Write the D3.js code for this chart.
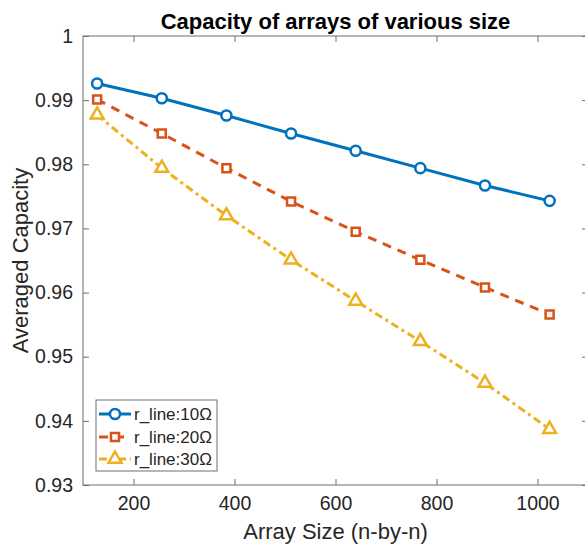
<!DOCTYPE html>
<html>
<head>
<meta charset="utf-8">
<script src="https://cdn.jsdelivr.net/npm/d3@7"></script>
<style>
  body { margin: 0; background: #fff; }
  svg text { font-family: "Liberation Sans", Arial, Helvetica, sans-serif; fill: #262626; }
</style>
</head>
<body>
<div id="chart"></div>
<script>

// array sizes (n-by-n)
var sizes = [128, 256, 384, 512, 640, 768, 896, 1024];

var cap10 = [0.9926, 0.9903, 0.9876, 0.9848, 0.9821, 0.9794, 0.9767, 0.9743];
var cap20 = [0.9901, 0.9848, 0.9794, 0.9742, 0.9695, 0.9651, 0.9608, 0.9566];
var cap30 = [0.9877, 0.9794, 0.9720, 0.9651, 0.9587, 0.9524, 0.9459, 0.9387];

var seriesNames = ["r_line:10Ω", "r_line:20Ω", "r_line:30Ω"];

var xTicks = [200, 400, 600, 800, 1000];
var yTicks = [0.93, 0.94, 0.95, 0.96, 0.97, 0.98, 0.99, 1];

function drawChart(){
    var width = 585, height = 545;
    var left = 83, right = 588, top = 36, bottom = 485;

    var svg = d3.select("#chart").append("svg")
        .attr("width", width)
        .attr("height", height);

    var x = d3.scaleLinear().domain([100, 1100]).range([left, right]);
    var y = d3.scaleLinear().domain([0.93, 1]).range([bottom, top]);

    var axisColor = "#6e6e6e";

    // box
    svg.append("rect")
        .attr("x", left).attr("y", top)
        .attr("width", right - left).attr("height", bottom - top)
        .attr("fill", "none").attr("stroke", axisColor).attr("stroke-width", 1);

    // x ticks (bottom + top, inward)
    var xg = svg.append("g").attr("transform", "translate(0," + bottom + ")")
        .call(d3.axisBottom(x).tickValues(xTicks).tickSizeInner(-6).tickSizeOuter(0).tickPadding(11).tickFormat(d3.format("d")));
    xg.select(".domain").remove();
    xg.selectAll("line").attr("stroke", axisColor);
    xg.selectAll("text").attr("font-size", 19.5).attr("fill", "#262626");

    var xt = svg.append("g").attr("transform", "translate(0," + top + ")")
        .call(d3.axisTop(x).tickValues(xTicks).tickSizeInner(-6).tickSizeOuter(0).tickFormat(""));
    xt.select(".domain").remove();
    xt.selectAll("line").attr("stroke", axisColor);

    // y ticks (left + right, inward)
    var fmt = function(d){ return d === 1 ? "1" : d3.format(".2f")(d); };
    var yg = svg.append("g").attr("transform", "translate(" + left + ",0)")
        .call(d3.axisLeft(y).tickValues(yTicks).tickSizeInner(-6).tickSizeOuter(0).tickPadding(10).tickFormat(fmt));
    yg.select(".domain").remove();
    yg.selectAll("line").attr("stroke", axisColor);
    yg.selectAll("text").attr("font-size", 19.5).attr("fill", "#262626");

    var yr = svg.append("g").attr("transform", "translate(" + right + ",0)")
        .call(d3.axisRight(y).tickValues(yTicks).tickSizeInner(-6).tickSizeOuter(0).tickFormat(""));
    yr.select(".domain").remove();
    yr.selectAll("line").attr("stroke", axisColor);

    // labels
    svg.append("text")
        .attr("x", (left + right) / 2).attr("y", 29)
        .attr("text-anchor", "middle")
        .attr("font-size", 22).attr("font-weight", "bold")
        .style("fill", "#000")
        .text("Capacity of arrays of various size");

    svg.append("text")
        .attr("x", (left + right) / 2).attr("y", 539)
        .attr("text-anchor", "middle")
        .attr("font-size", 22)
        .text("Array Size (n-by-n)");

    svg.append("text")
        .attr("transform", "translate(28," + ((top + bottom) / 2) + ") rotate(-90)")
        .attr("text-anchor", "middle")
        .attr("font-size", 22)
        .text("Averaged Capacity");

    var series = [
        { name: seriesNames[0], values: cap10, color: "#0072BD", dash: null, marker: "circle" },
        { name: seriesNames[1], values: cap20, color: "#D95319", dash: "9,7", marker: "square" },
        { name: seriesNames[2], values: cap30, color: "#EDB120", dash: "8,4,3,4", marker: "triangle" }
    ];

    var line = d3.line()
        .x(function(d){ return x(d[0]); })
        .y(function(d){ return y(d[1]); });

    var symbolFor = function(m){
        if (m === "circle") return d3.symbol().type(d3.symbolCircle).size(80)();
        if (m === "square") return d3.symbol().type(d3.symbolSquare).size(64)();
        return d3.symbol().type(d3.symbolTriangle).size(72)();
    };

    series.forEach(function(s){
        var pts = sizes.map(function(v, i){ return [v, s.values[i]]; });
        svg.append("path")
            .datum(pts)
            .attr("d", line)
            .attr("fill", "none")
            .attr("stroke", s.color)
            .attr("stroke-width", 3)
            .attr("stroke-dasharray", s.dash);

        svg.selectAll(null)
            .data(pts)
            .enter().append("path")
            .attr("transform", function(d){ return "translate(" + x(d[0]) + "," + y(d[1]) + ")"; })
            .attr("d", symbolFor(s.marker))
            .attr("fill", "#fff")
            .attr("stroke", s.color)
            .attr("stroke-width", 2.5);
    });

    // legend
    var lg = svg.append("g");
    lg.append("rect")
        .attr("x", 96).attr("y", 400)
        .attr("width", 121).attr("height", 71)
        .attr("fill", "#fff").attr("stroke", axisColor).attr("stroke-width", 1);

    var rowY = [414, 437, 459];
    series.forEach(function(s, i){
        lg.append("line")
            .attr("x1", 99).attr("x2", 131)
            .attr("y1", rowY[i]).attr("y2", rowY[i])
            .attr("stroke", s.color).attr("stroke-width", 3)
            .attr("stroke-dasharray", s.dash);
        lg.append("path")
            .attr("transform", "translate(115," + rowY[i] + ")")
            .attr("d", symbolFor(s.marker))
            .attr("fill", "#fff")
            .attr("stroke", s.color)
            .attr("stroke-width", 2.5);
        lg.append("text")
            .attr("x", 134).attr("y", rowY[i] + 6)
            .attr("font-size", 17)
            .text(s.name);
    });
}

drawChart();
</script>
</body>
</html>
